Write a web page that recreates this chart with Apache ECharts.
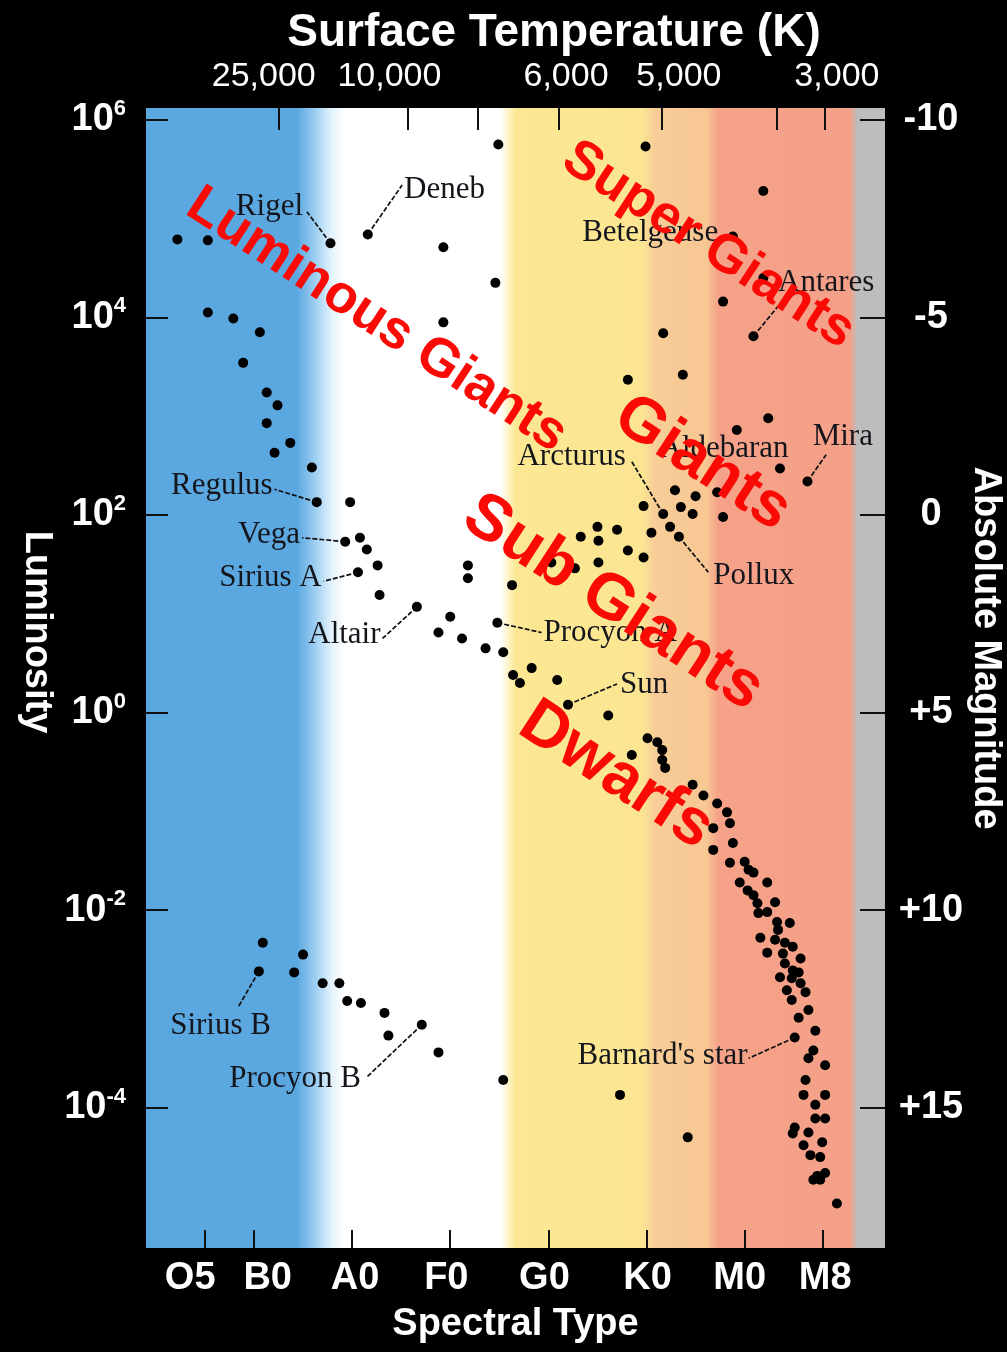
<!DOCTYPE html>
<html>
<head>
<meta charset="utf-8">
<style>
html, body { margin: 0; padding: 0; background: #000; }
#chart { width: 1007px; height: 1352px; }
</style>
</head>
<body>
<div id="chart"></div>
<script src="https://cdn.jsdelivr.net/npm/echarts@6/dist/echarts.min.js"></script>
<script>
// spectral type as a number: O0 = 0, B0 = 10, A0 = 20, F0 = 30, G0 = 40, K0 = 50, M0 = 60
var spectralTicks = [5, 10, 20, 30, 40, 50, 60, 68];
var spectralLabelPos = [3.5, 11.4, 20.3, 29.6, 39.6, 50.1, 59.5, 68.2];
var spectralLabels = ['O5', 'B0', 'A0', 'F0', 'G0', 'K0', 'M0', 'M8'];
// surface temperature (top axis), placed on the spectral scale
var tempTickPos = [12.5, 25.7, 32.8, 41.1, 51.6, 63.3, 68.2];
var tempLabelPos = [11, 23.8, 41.8, 53.3, 69.4];
var tempLabels = ['25,000', '10,000', '6,000', '5,000', '3,000'];
// luminosity as log10(L / Lsun), absolute magnitude on the right
var lumTicks = [-4, -2, 0, 2, 4, 6];
var magTicks = [-10, -5, 0, 5, 10, 15];

var xMin = -1, xMax = 74.3;
var lumMin = -5.42, lumMax = 6.12;

// [spectral, log L]
var fieldStars = [
    [34.9, 5.75], [49.9, 5.73], [61.9, 5.28],
    [2.2, 4.79], [5.3, 4.78], [29.3, 4.71], [34.6, 4.35],
    [61.9, 4.40], [57.8, 4.16], [51.7, 3.84],
    [5.3, 4.05], [7.9, 3.99], [10.6, 3.85], [29.3, 3.95],
    [8.9, 3.54], [48.1, 3.37], [53.7, 3.42],
    [11.3, 3.24], [12.4, 3.11], [11.3, 2.93], [13.7, 2.73], [12.1, 2.63], [15.9, 2.48],
    [62.4, 2.98], [59.2, 2.86],
    [19.8, 2.13], [20.8, 1.77], [21.5, 1.65], [22.6, 1.49], [22.8, 1.19],
    [52.9, 2.25], [55.0, 2.19], [57.2, 2.23], [49.7, 2.09], [53.5, 2.08], [54.7, 2.01],
    [57.8, 1.98], [52.4, 1.88], [50.5, 1.82],
    [45.0, 1.88], [47.0, 1.85], [43.3, 1.78], [45.1, 1.74], [48.1, 1.64], [49.7, 1.57],
    [45.1, 1.52], [42.7, 1.46], [40.3, 1.52],
    [31.8, 1.49], [31.8, 1.36], [36.3, 1.29],
    [30.0, 0.97], [28.8, 0.81], [31.2, 0.75], [33.6, 0.65], [35.4, 0.61],
    [38.3, 0.45], [36.4, 0.38], [37.1, 0.30], [40.9, 0.33],
    [46.1, -0.03],
    [50.1, -0.26], [51.1, -0.30], [51.6, -0.38], [48.5, -0.43], [51.6, -0.48], [51.9, -0.56],
    [54.7, -0.73], [55.8, -0.84], [57.2, -0.92], [58.2, -1.01], [58.5, -1.12], [56.8, -1.17], [58.8, -1.32],
    [56.8, -1.39], [58.5, -1.52], [60.0, -1.51], [60.4, -1.59], [60.9, -1.62], [59.5, -1.72],
    [62.3, -1.72], [60.3, -1.80], [60.9, -1.85], [61.3, -1.93], [63.1, -1.92], [62.3, -2.02],
    [61.4, -2.03], [63.3, -2.12], [64.6, -2.13], [63.4, -2.20], [61.6, -2.28], [63.1, -2.30],
    [64.1, -2.33], [64.9, -2.37], [62.3, -2.43], [63.9, -2.44], [65.7, -2.49], [64.1, -2.54],
    [64.9, -2.61], [65.5, -2.63], [63.6, -2.68], [64.8, -2.69], [65.7, -2.74], [64.3, -2.81],
    [66.2, -2.83], [64.8, -2.91], [66.5, -3.01], [65.5, -3.09], [67.2, -3.22], [67.0, -3.42],
    [66.5, -3.50], [68.2, -3.57], [66.2, -3.72], [68.2, -3.87], [66.0, -3.87], [67.2, -3.97],
    [67.2, -4.11], [68.2, -4.11], [65.1, -4.20], [66.5, -4.25], [64.9, -4.26], [67.9, -4.35],
    [66.0, -4.38], [66.7, -4.48], [67.7, -4.50], [68.2, -4.66], [67.4, -4.69], [67.0, -4.73],
    [67.7, -4.73], [69.4, -4.97],
    [35.4, -3.72], [47.3, -3.87], [54.2, -4.30],
    [10.9, -2.33], [15.0, -2.45], [14.1, -2.63], [17.0, -2.74], [18.7, -2.74], [19.5, -2.92],
    [20.9, -2.94], [23.3, -3.04], [23.7, -3.27], [28.8, -3.44]
];

var starNames = ['Rigel', 'Deneb', 'Betelgeuse', 'Antares', 'Aldebaran', 'Mira', 'Arcturus', 'Pollux',
    'Regulus', 'Vega', 'Sirius A', 'Altair', 'Procyon A', 'Sun', 'Sirius B', 'Procyon B', "Barnard's star"];
var starPos = [[17.8, 4.75], [21.6, 4.84], [58.8, 4.82], [60.9, 3.81], [63.6, 2.47], [66.4, 2.34],
    [51.7, 2.01], [53.3, 1.78], [16.4, 2.13], [19.3, 1.73], [20.6, 1.42], [26.6, 1.07],
    [34.8, 0.91], [42.0, 0.08], [10.5, -2.62], [27.1, -3.16], [65.1, -3.29]];
// end of the pointer line next to the name (null = no line)
var lineEnd = [[15.4, 5.07], [25.1, 5.34], null, [64.2, 4.21], null, [68.3, 2.61],
    [48.5, 2.54], [56.3, 1.42], [12.1, 2.26], [14.9, 1.77], [17.1, 1.33], [23.1, 0.75],
    [39.3, 0.81], [47.0, 0.29], [8.4, -2.98], [21.5, -3.69], [60.4, -3.50]];
var textPos = [[15.0, 5.12], [25.3, 5.29], [57.3, 4.86], [63.4, 4.35], [57.9, 2.67], [70.0, 2.79],
    [47.9, 2.59], [56.8, 1.38], [11.9, 2.30], [14.7, 1.80], [16.9, 1.36], [22.9, 0.79],
    [39.5, 0.81], [47.3, 0.28], [6.6, -3.17], [14.2, -3.71], [60.3, -3.47]];
var textSide = ['left', 'right', 'left', 'right', 'inside', 'inside', 'left', 'right',
    'left', 'left', 'left', 'left', 'right', 'right', 'inside', 'inside', 'left'];

var zoneNames = ['Super Giants', 'Luminous Giants', 'Giants', 'Sub Giants', 'Dwarfs'];
var zonePos = [[56.3, 4.73], [22.5, 3.97], [55.7, 2.52], [46.6, 1.11], [46.9, -0.64]];
var zoneFont = [54, 54, 63, 65, 65];

// background colour bands along the spectral axis
var bandEdge = [-1, 14.4, 16.4, 17.9, 19.3, 35.1, 36.7, 49.6, 50.8, 56.1, 57.3, 70.7, 71.5, 74.3];
var bandColor = ['#5ba8e1', '#5ba8e1', '#a3d2f3', '#e4f3fc', '#ffffff', '#ffffff', '#fce892',
    '#fbe592', '#f8cd97', '#f7c794', '#f5a289', '#f5a088', '#bebdbd', '#bebdbd'];

var sans = 'Liberation Sans, Arial, sans-serif';
var serif = 'Liberation Serif, Times New Roman, serif';

var bandStops = bandEdge.map(function (e, i) {
    return { offset: (e - xMin) / (xMax - xMin), color: bandColor[i] };
});

var leaderLines = [];
starPos.forEach(function (p, i) {
    if (lineEnd[i]) leaderLines.push({ coords: [p, lineEnd[i]] });
});

var nameLabels = textPos.map(function (p, i) {
    return {
        value: p,
        name: starNames[i],
        label: { position: textSide[i] }
    };
});

var zoneLabels = zonePos.map(function (p, i) {
    return { value: p, name: zoneNames[i], label: { fontSize: zoneFont[i] } };
});

var tickStyle = { color: '#111', width: 2 };

var myChart = echarts.init(document.getElementById('chart'));
var option = {
    backgroundColor: '#000',
    animation: false,
    grid: { left: 146, right: 122, top: 108, bottom: 104 },
    xAxis: [
        {
            type: 'value',
            position: 'bottom',
            min: xMin,
            max: xMax,
            splitLine: { show: false },
            axisLine: { show: false, onZero: false },
            axisTick: { customValues: spectralTicks, inside: true, length: 18, lineStyle: tickStyle },
            axisLabel: {
                customValues: spectralLabelPos,
                showMinLabel: true,
                showMaxLabel: true,
                formatter: function (v) { return spectralLabels[spectralLabelPos.indexOf(v)]; },
                color: '#fff',
                fontFamily: sans,
                fontWeight: 'bold',
                fontSize: 38,
                margin: 12
            },
            name: 'Spectral Type',
            nameLocation: 'middle',
            nameGap: 58,
            nameTextStyle: { color: '#fff', fontFamily: sans, fontWeight: 'bold', fontSize: 38 }
        },
        {
            type: 'value',
            position: 'top',
            min: xMin,
            max: xMax,
            splitLine: { show: false },
            axisLine: { show: false, onZero: false },
            axisTick: { customValues: tempTickPos, inside: true, length: 22, lineStyle: tickStyle },
            axisLabel: {
                customValues: tempLabelPos,
                showMinLabel: true,
                showMaxLabel: true,
                formatter: function (v) { return tempLabels[tempLabelPos.indexOf(v)]; },
                color: '#fff',
                fontFamily: sans,
                fontSize: 34,
                margin: 14
            }
        }
    ],
    yAxis: [
        {
            type: 'value',
            position: 'left',
            min: lumMin,
            max: lumMax,
            splitLine: { show: false },
            axisLine: { show: false, onZero: false },
            axisTick: { customValues: lumTicks, inside: true, length: 22, lineStyle: tickStyle },
            axisLabel: {
                customValues: lumTicks,
                showMinLabel: true,
                showMaxLabel: true,
                formatter: function (v) { return '{b|10}{s|' + v + '}'; },
                margin: 20,
                rich: {
                    b: { color: '#fff', fontFamily: sans, fontWeight: 'bold', fontSize: 38, lineHeight: 44 },
                    s: { color: '#fff', fontFamily: sans, fontWeight: 'bold', fontSize: 22, verticalAlign: 'top', lineHeight: 22 }
                }
            }
        },
        {
            type: 'value',
            position: 'right',
            inverse: true,
            min: 5 - 2.5 * lumMax,
            max: 5 - 2.5 * lumMin,
            splitLine: { show: false },
            axisLine: { show: false, onZero: false },
            axisTick: { customValues: magTicks, inside: true, length: 25, lineStyle: tickStyle },
            axisLabel: {
                customValues: magTicks,
                showMinLabel: true,
                showMaxLabel: true,
                formatter: function (v) { return v > 0 ? '+' + v : String(v); },
                align: 'center',
                margin: 46,
                color: '#fff',
                fontFamily: sans,
                fontWeight: 'bold',
                fontSize: 38
            }
        }
    ],
    graphic: [
        {
            type: 'text', x: 554, y: 33,
            style: { text: 'Surface Temperature (K)', fill: '#fff', font: 'bold 46px ' + sans, align: 'center', verticalAlign: 'middle' }
        },
        {
            type: 'text', x: 36, y: 632, rotation: -Math.PI / 2,
            style: { text: 'Luminosity', fill: '#fff', font: 'bold 38px ' + sans, align: 'center', verticalAlign: 'middle' }
        },
        {
            type: 'text', x: 985, y: 648, rotation: -Math.PI / 2,
            style: { text: 'Absolute Magnitude', fill: '#fff', font: 'bold 38px ' + sans, align: 'center', verticalAlign: 'middle' }
        }
    ],
    series: [
        {
            // colour bands behind the stars
            type: 'custom',
            silent: true,
            z: 0,
            data: [[xMin, lumMin]],
            renderItem: function (params, api) {
                var p0 = api.coord([xMin, lumMax]);
                var p1 = api.coord([xMax, lumMin]);
                return {
                    type: 'rect',
                    shape: { x: p0[0], y: p0[1], width: p1[0] - p0[0], height: p1[1] - p0[1] },
                    style: {
                        fill: { type: 'linear', x: 0, y: 0, x2: 1, y2: 0, colorStops: bandStops }
                    }
                };
            }
        },
        {
            type: 'scatter',
            z: 3,
            symbolSize: 10,
            itemStyle: { color: '#000', opacity: 1 },
            data: fieldStars
        },
        {
            type: 'scatter',
            z: 3,
            symbolSize: 10,
            itemStyle: { color: '#000', opacity: 1 },
            data: starPos
        },
        {
            type: 'lines',
            coordinateSystem: 'cartesian2d',
            z: 4,
            silent: true,
            lineStyle: { color: '#111', width: 1.7, type: [5, 2], opacity: 1 },
            data: leaderLines
        },
        {
            type: 'scatter',
            z: 5,
            symbolSize: 0,
            silent: true,
            itemStyle: { color: 'rgba(0,0,0,0)', opacity: 1 },
            label: {
                show: true,
                distance: 0,
                formatter: '{b}',
                color: '#15151c',
                fontFamily: serif,
                fontSize: 31
            },
            data: nameLabels
        },
        {
            type: 'scatter',
            z: 10,
            symbolSize: 0,
            silent: true,
            itemStyle: { color: 'rgba(0,0,0,0)', opacity: 1 },
            label: {
                show: true,
                position: 'inside',
                rotate: -33,
                formatter: '{b}',
                color: '#fa0a05',
                fontFamily: sans,
                fontWeight: 'bold'
            },
            data: zoneLabels
        }
    ]
};
myChart.setOption(option);
</script>
</body>
</html>
